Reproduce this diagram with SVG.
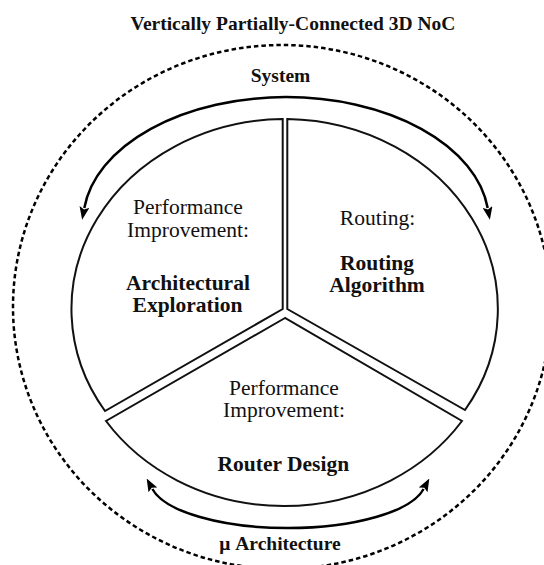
<svg xmlns="http://www.w3.org/2000/svg" width="544" height="565" viewBox="0 0 544 565">
  <style>
    .t { font-family: "Liberation Serif", "Times New Roman", serif; fill: #111; text-anchor: middle; }
    .b { font-weight: bold; }
    .lbl { font-size: 19.5px; }
    .s { font-size: 21.5px; }
    .sector { fill: #fff; stroke: #111; stroke-width: 2; stroke-linejoin: miter; }
    .arrow { fill: none; stroke: #000; stroke-width: 2.5; marker-start: url(#ah); marker-end: url(#ah); }
    .bound { fill: none; stroke: #000; stroke-width: 2.5; stroke-dasharray: 4.5 3; }
  </style>
  <defs>
    <marker id="ah" viewBox="0 0 13 10" refX="1" refY="5" markerWidth="13" markerHeight="10" markerUnits="userSpaceOnUse" orient="auto-start-reverse">
      <path d="M0,0 L13,5 L0,10 L2.5,5 z" fill="#000"/>
    </marker>
  </defs>
  <rect width="544" height="565" fill="#fff"/>

  <g id="title">
    <text class="t b lbl" x="293" y="30">Vertically Partially-Connected 3D NoC</text>
  </g>

  <g id="boundary">
    <ellipse class="bound" cx="282" cy="307" rx="269" ry="262"/>
  </g>

  <g id="label-system">
    <text class="t b lbl" x="280.5" y="82">System</text>
  </g>

  <g id="label-micro">
    <text class="t b lbl" x="280" y="550">μ Architecture</text>
  </g>

  <g id="connectors">
    <path class="arrow" d="M84.3,208 A203,125 0 0 1 487.7,208"/>
    <path class="arrow" d="M152.4,489 A138,48 0 0 0 423.6,489"/>
  </g>

  <g id="sector-architectural">
    <path class="sector" d="M282.7,119 L282.7,309 L105,411 A214.5,190 0 0 1 282.7,119 Z"/>
    <text class="t s" x="188" y="214">Performance</text>
    <text class="t s" x="188" y="236.7">Improvement:</text>
    <text class="t b s" x="188" y="290">Architectural</text>
    <text class="t b s" x="187.5" y="312.2">Exploration</text>
  </g>

  <g id="sector-routing">
    <path class="sector" d="M287.3,119 L287.3,309 L465,410 A214.5,190 0 0 0 287.3,119 Z"/>
    <text class="t s" x="377.5" y="225">Routing:</text>
    <text class="t b s" x="377" y="270">Routing</text>
    <text class="t b s" x="377" y="291.9">Algorithm</text>
  </g>

  <g id="sector-router">
    <path class="sector" d="M285,318 L106,421 A214.5,192.3 0 0 0 462,421 Z"/>
    <text class="t s" x="284" y="395">Performance</text>
    <text class="t s" x="284" y="417.3">Improvement:</text>
    <text class="t b s" x="283.3" y="470.7">Router Design</text>
  </g>
</svg>
